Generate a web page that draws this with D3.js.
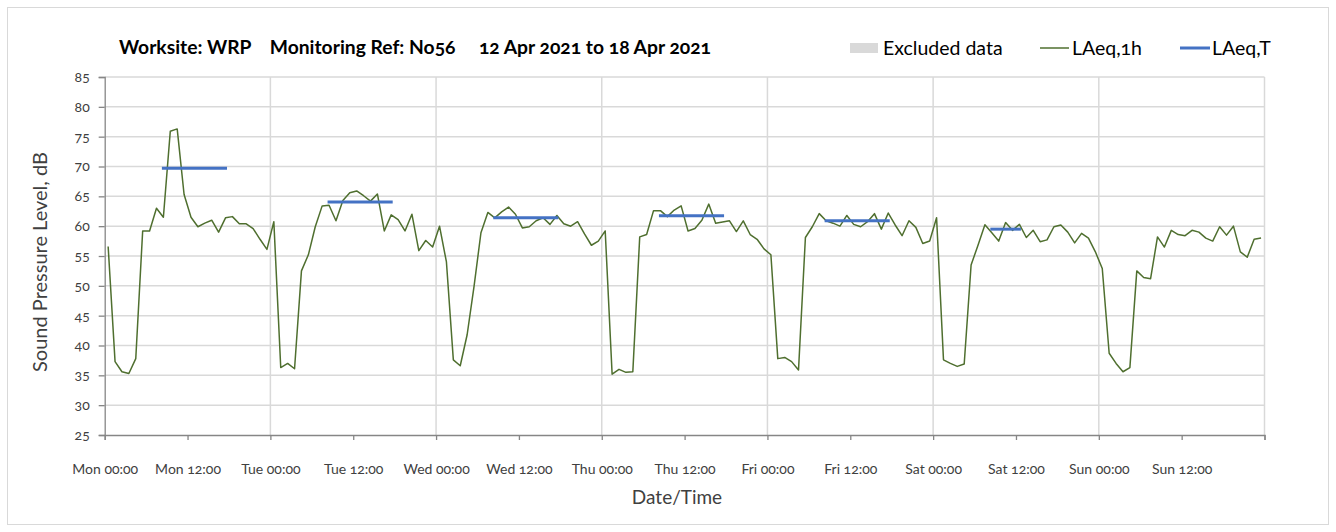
<!DOCTYPE html>
<html>
<head>
<meta charset="utf-8">
<script src="https://cdn.jsdelivr.net/npm/d3@7"></script>
<style>
  body { margin: 0; background: #fff; }
  svg text { font-family: Lato, "Open Sans", sans-serif; font-variant-numeric: oldstyle-nums; }
</style>
</head>
<body>
<div id="chart"></div>
<script>
// hourly LAeq,1h values, one array per day (00:00 - 23:00)
var monValues = [56.6, 37.3, 35.6, 35.3, 37.8, 59.2, 59.2, 63.0, 61.5, 75.9, 76.3, 65.3, 61.5, 59.9, 60.5, 61.0, 59.0, 61.4, 61.6, 60.4, 60.4, 59.6, 57.8, 56.1];
var tueValues = [60.75, 36.3, 37.0, 36.1, 52.5, 55.2, 59.9, 63.4, 63.5, 60.9, 64.3, 65.6, 65.9, 65.1, 64.2, 65.4, 59.2, 61.9, 61.1, 59.2, 62.0, 55.9, 57.6, 56.5];
var wedValues = [60.0, 54.0, 37.6, 36.6, 41.8, 49.9, 58.9, 62.3, 61.4, 62.4, 63.2, 62.0, 59.7, 59.9, 60.9, 61.4, 60.3, 61.8, 60.4, 60.0, 60.75, 58.7, 56.8, 57.5];
var thuValues = [59.2, 35.2, 36.0, 35.5, 35.6, 58.2, 58.6, 62.6, 62.6, 61.6, 62.7, 63.4, 59.2, 59.6, 61.0, 63.7, 60.5, 60.7, 60.9, 59.1, 60.9, 58.6, 57.8, 56.2];
var friValues = [55.2, 37.8, 38.0, 37.3, 35.9, 58.1, 59.9, 62.1, 60.9, 60.5, 60.0, 61.8, 60.3, 59.9, 60.75, 62.1, 59.5, 62.2, 60.2, 58.4, 60.9, 59.8, 57.1, 57.5];
var satValues = [61.4, 37.6, 37.0, 36.5, 36.9, 53.5, 56.8, 60.25, 58.9, 57.5, 60.6, 59.3, 60.3, 58.1, 59.3, 57.4, 57.7, 59.9, 60.2, 59.0, 57.2, 58.8, 58.0, 55.7];
var sunValues = [52.9, 38.7, 37.0, 35.6, 36.3, 52.5, 51.4, 51.2, 58.2, 56.5, 59.3, 58.6, 58.4, 59.3, 59.0, 58.0, 57.5, 59.9, 58.5, 60.0, 55.7, 54.8, 57.8, 58.0];

// LAeq,T per day and the hours it covers
var periodDays   = [0, 1, 2, 3, 4, 5];
var periodValues = [69.7, 64.05, 61.4, 61.75, 60.9, 59.5];
var periodStart  = [8, 8, 8, 8, 8, 8];
var periodEnd    = [17, 17, 17, 17, 17, 12];

var yTicks = [25, 30, 35, 40, 45, 50, 55, 60, 65, 70, 75, 80, 85];
var titleText = "Worksite: WRP    Monitoring Ref: No56     12 Apr 2021 to 18 Apr 2021";
var legendLabels = ["Excluded data", "LAeq,1h", "LAeq,T"];

var width = 1336, height = 532;
var margin = {left: 104.7, right: 1336 - 1264.5, top: 77, bottom: 532 - 435};

var start = Date.UTC(2021, 3, 12);
var HOUR = 3600000;
var hourly = [].concat(monValues, tueValues, wedValues, thuValues, friValues, satValues, sunValues);
var data = hourly.map(function(v, i){ return {t: new Date(start + (i + 0.5) * HOUR), v: v}; });

var svg = d3.select("#chart").append("svg")
  .attr("width", width)
  .attr("height", height);

svg.append("rect")
  .attr("x", 7.5).attr("y", 7.5)
  .attr("width", width - 15).attr("height", height - 15)
  .attr("fill", "#fff").attr("stroke", "#d9d9d9");

var x = d3.scaleUtc()
  .domain([new Date(start), new Date(start + 7 * 24 * HOUR)])
  .range([margin.left, width - margin.right]);
var y = d3.scaleLinear()
  .domain([25, 85])
  .range([height - margin.bottom, margin.top]);

// gridlines
var dayTicks = d3.range(0, 8).map(function(d){ return new Date(start + d * 24 * HOUR); });
svg.append("g").selectAll("line.vg")
  .data(dayTicks.slice(1))
  .enter().append("line")
  .attr("x1", function(d){ return x(d); }).attr("x2", function(d){ return x(d); })
  .attr("y1", y(25)).attr("y2", y(85))
  .attr("stroke", "#d9d9d9").attr("stroke-width", 1.5);
svg.append("g").selectAll("line.hg")
  .data(yTicks.slice(1))
  .enter().append("line")
  .attr("x1", x.range()[0]).attr("x2", x.range()[1])
  .attr("y1", function(d){ return y(d); }).attr("y2", function(d){ return y(d); })
  .attr("stroke", "#d9d9d9").attr("stroke-width", 1.5);

// axes
var halfDays = d3.range(0, 15).map(function(d){ return new Date(start + d * 12 * HOUR); });
var fmt = d3.utcFormat("%a %H:%M");
var xAxis = svg.append("g")
  .attr("transform", "translate(0," + y(25) + ")")
  .call(d3.axisBottom(x).tickValues(halfDays)
    .tickFormat(function(d, i){ return i < 14 ? fmt(d) : ""; })
    .tickSizeOuter(0).tickSize(5).tickPadding(24));
xAxis.selectAll("text").attr("font-size", 14).attr("fill", "#404040");

var yAxis = svg.append("g")
  .attr("transform", "translate(" + x.range()[0] + ",0)")
  .call(d3.axisLeft(y).tickValues(yTicks).tickSizeOuter(0).tickSize(6).tickPadding(9));
yAxis.selectAll("text").attr("font-size", 14).attr("fill", "#404040");
svg.selectAll(".domain").attr("stroke", "#868686").attr("stroke-width", 1.3);
svg.selectAll(".tick line").attr("stroke", "#868686").attr("stroke-width", 1.3);

// LAeq,1h
var line = d3.line()
  .x(function(d){ return x(d.t); })
  .y(function(d){ return y(d.v); });
svg.append("path")
  .datum(data)
  .attr("d", line)
  .attr("fill", "none")
  .attr("stroke", "#4f6f2f")
  .attr("stroke-width", 1.5)
  .attr("stroke-linejoin", "round");

// LAeq,T
svg.append("g").selectAll("line.per")
  .data(periodDays)
  .enter().append("line")
  .attr("x1", function(d, i){ return x(new Date(start + (d * 24 + periodStart[i] + 0.5) * HOUR)); })
  .attr("x2", function(d, i){ return x(new Date(start + (d * 24 + periodEnd[i] + 0.5) * HOUR)); })
  .attr("y1", function(d, i){ return y(periodValues[i]); })
  .attr("y2", function(d, i){ return y(periodValues[i]); })
  .attr("stroke", "#4472c4")
  .attr("stroke-width", 3)
  .attr("stroke-linecap", "square");

// titles
svg.append("text")
  .attr("x", 119).attr("y", 54)
  .attr("font-size", 19.3).attr("font-weight", "bold")
  .attr("fill", "#000")
  .attr("xml:space", "preserve")
  .style("white-space", "pre")
  .text(titleText);

svg.append("text")
  .attr("transform", "translate(47,262) rotate(-90)")
  .attr("text-anchor", "middle")
  .attr("font-size", 20).attr("fill", "#404040")
  .text("Sound Pressure Level, dB");

svg.append("text")
  .attr("x", 677).attr("y", 504)
  .attr("text-anchor", "middle")
  .attr("font-size", 19).attr("fill", "#404040")
  .text("Date/Time");

// legend
var legX = [850, 1040, 1180];
var leg = svg.append("g");
leg.append("rect").attr("x", legX[0]).attr("y", 43).attr("width", 28).attr("height", 10).attr("fill", "#d9d9d9");
leg.append("line").attr("x1", legX[1]).attr("x2", legX[1] + 29).attr("y1", 48).attr("y2", 48)
  .attr("stroke", "#4f6f2f").attr("stroke-width", 1.5);
leg.append("line").attr("x1", legX[2]).attr("x2", legX[2] + 30).attr("y1", 48).attr("y2", 48)
  .attr("stroke", "#4472c4").attr("stroke-width", 3);
leg.selectAll("text")
  .data(legendLabels)
  .enter().append("text")
  .attr("x", function(d, i){ return legX[i] + (i == 0 ? 33 : 32); })
  .attr("y", 55)
  .attr("font-size", 19.5).attr("fill", "#000")
  .text(function(d){ return d; });
</script>
</body>
</html>
